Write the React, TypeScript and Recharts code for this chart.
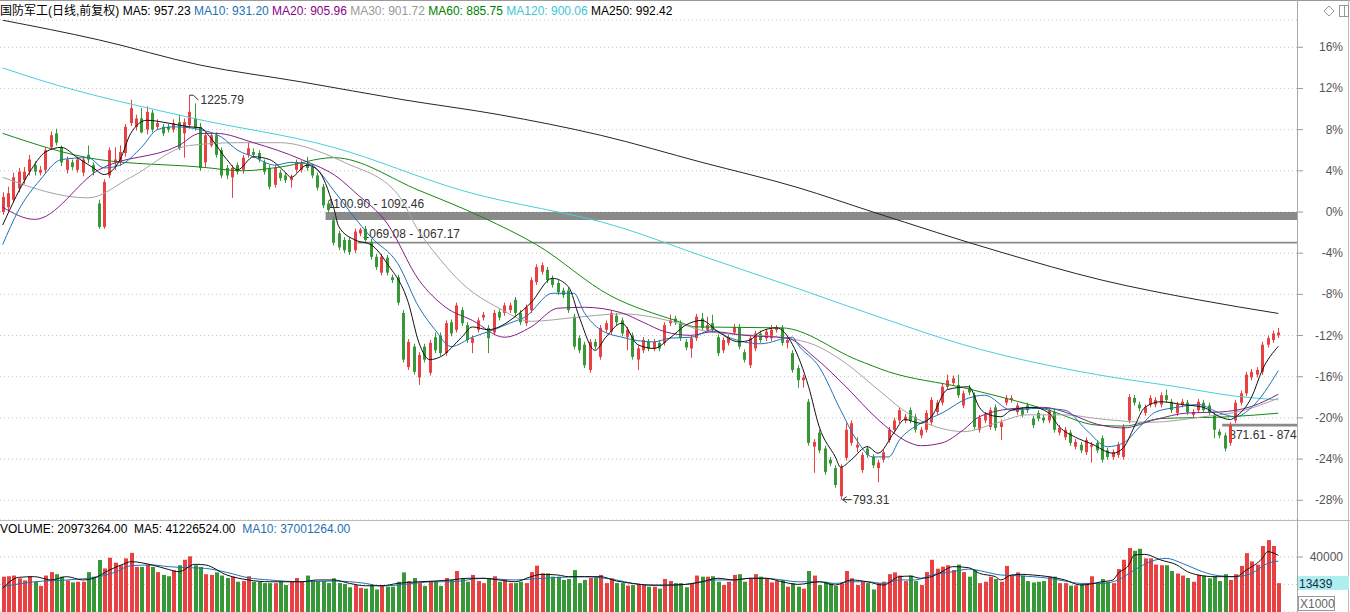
import React from 'react';
import { ComposedChart, Bar, Line, XAxis, YAxis, CartesianGrid, ReferenceArea, ReferenceDot } from 'recharts';

const FONT = "'Liberation Sans', Arial, 'Noto Sans CJK SC', sans-serif";
const UP = '#e94141';
const DOWN = '#369836';

const BASE = 1100.9;
const pctTicks = [16, 12, 8, 4, 0, -4, -8, -12, -16, -20, -24, -28];
const volTicks = [20000, 40000];
const SLOTS = 243;

const opens = [
  1101,1106,1114,1126,1135,1144,1151,1143,1146,1170,
  1185,1170,1146,1154,1146,1143,1162,1151,1110,1085,
  1140,1154,1154,1164,1196,1192,1201,1189,1207,1192,
  1192,1192,1189,1197,1185,1194,1201,1192,1154,1172,
  1183,1167,1148,1138,1151,1146,1162,1165,1164,1154,
  1148,1130,1143,1140,1135,1146,1146,1153,1149,1140,
  1128,1110,1092,1078,1071,1071,1060,1078,1083,1069,
  1053,1036,1052,1031,1031,993,935,957,924,957,
  929,967,969,950,983,975,996,980,961,975,
  988,977,972,994,993,996,1007,993,982,996,
  1026,1037,1039,1030,1025,1017,1017,989,966,959,
  932,962,946,975,973,990,985,967,969,943,
  953,962,955,961,961,982,987,982,962,955,
  966,987,975,982,967,953,961,972,978,951,
  937,955,971,966,966,975,977,961,950,934,
  921,898,850,865,848,836,827,797,838,854,
  849,825,848,839,827,836,857,868,878,878,
  889,882,862,868,876,887,897,914,918,916,
  894,913,905,868,878,871,892,871,897,900,
  887,889,894,880,886,881,878,887,865,860,
  865,850,852,844,850,854,859,846,839,841,
  839,878,902,895,886,895,895,895,905,898,
  886,895,897,884,889,897,894,884,866,862,
  854,878,897,907,924,927,930,959,964,969,
];
const highs = [
  1122,1128,1143,1148,1149,1162,1155,1150,1170,1187,
  1190,1172,1160,1157,1160,1160,1172,1154,1114,1136,
  1170,1170,1172,1195,1221,1205,1212,1214,1210,1200,
  1195,1195,1200,1205,1201,1225.79,1217,1196,1186,1186,
  1186,1170,1151,1151,1154,1162,1175,1169,1167,1157,
  1151,1151,1146,1143,1141,1157,1156,1160,1152,1143,
  1131,1113,1096,1081,1074,1074,1083,1084,1086,1072,
  1056,1056,1055,1034,1034,996,965,960,951,960,
  964,972,972,985,986,1004,999,983,969,988,
  994,980,996,997,1004,1004,1010,996,1002,1031,
  1045,1047,1042,1033,1028,1020,1020,992,969,962,
  965,965,980,985,996,993,988,978,972,958,
  967,965,965,964,983,991,990,985,965,969,
  992,993,989,991,970,967,970,981,981,954,
  969,974,974,976,980,980,980,967,953,937,
  927,901,858,868,851,839,830,831,875,878,
  860,844,851,842,836,847,871,881,892,885,
  892,885,871,889,903,900,917,927,926,927,
  910,916,908,884,887,892,895,879,905,905,
  897,892,897,883,889,884,892,890,873,871,
  868,858,855,860,855,857,862,849,847,855,
  874,906,905,898,895,905,903,908,911,901,
  898,901,900,890,901,900,897,887,869,865,
  876,900,910,930,933,935,962,969,974,977,
];
const lows = [
  1098,1103,1111,1122,1131,1140,1140,1140,1142,1168,
  1172,1150,1142,1146,1143,1139,1153,1140,1083,1083,
  1137,1146,1150,1160,1193,1188,1185,1184,1186,1189,
  1182,1186,1186,1167,1159,1190,1188,1145,1149,1170,
  1159,1137,1136,1116,1141,1142,1159,1159,1154,1141,
  1125,1127,1134,1132,1127,1143,1143,1145,1137,1124,
  1105,1100,1065,1060,1057,1055,1057,1075,1068,1050,
  1039,1033,1033,1025,1001,940,932,927,916,940,
  926,950,947,947,968,972,979,961,950,972,
  985,950,969,985,990,993,990,980,979,993,
  1023,1034,1025,1020,1012,1009,993,954,950,934,
  929,954,943,972,970,980,968,953,943,932,
  950,952,952,952,958,979,980,963,953,945,
  963,974,972,972,947,950,958,969,954,940,
  934,952,961,963,963,972,958,955,929,913,
  913,851,822,843,820,829,806,793.31,835,851,
  844,822,838,827,812,833,854,865,875,875,
  875,865,859,865,873,884,894,911,915,902,
  891,905,868,865,875,868,867,857,894,897,
  884,881,886,870,877,875,875,865,862,857,
  851,847,843,841,833,843,833,836,836,838,
  836,875,894,888,883,892,892,892,897,886,
  883,892,884,881,886,886,884,859,859,845,
  851,875,894,904,921,924,927,956,961,966,
];
const closes = [
  1117,1121,1138,1144,1144,1157,1144,1146,1167,1183,
  1175,1154,1157,1149,1157,1157,1157,1144,1085,1133,
  1167,1157,1165,1192,1212,1201,1186,1208,1189,1196,
  1185,1189,1196,1169,1197,1208,1191,1148,1183,1183,
  1162,1140,1140,1148,1144,1159,1169,1162,1157,1144,
  1128,1148,1137,1135,1138,1154,1153,1148,1140,1127,
  1108,1103,1068,1063,1060,1058,1080,1082,1071,1053,
  1042,1053,1036,1028,1004,943,962,930,948,943,
  961,953,950,982,971,1001,982,964,966,985,
  991,966,993,988,1001,1001,993,983,999,1028,
  1042,1044,1028,1023,1015,1012,996,957,953,937,
  962,957,977,982,993,983,971,975,946,955,
  964,955,962,955,980,985,983,966,956,966,
  989,977,980,975,950,964,967,978,957,943,
  966,971,964,973,975,977,961,964,932,921,
  924,854,855,846,823,832,809,828,868,875,
  852,841,841,830,833,844,868,878,889,882,
  878,868,868,886,900,897,914,921,923,905,
  907,908,871,881,884,889,870,876,902,902,
  894,884,889,873,880,878,889,868,870,868,
  854,855,846,857,852,846,836,839,844,852,
  871,903,897,891,892,902,900,905,900,889,
  895,898,887,887,898,889,887,868,862,848,
  873,897,907,927,930,932,959,966,971,972,
];
const volumes = [
  25700,26000,26500,24500,23000,26000,22000,19000,26500,29000,
  27500,25700,23000,21500,22000,22000,29000,25700,37800,31700,
  39500,35900,34000,39000,43000,32800,32800,34500,32800,29000,
  27000,26000,30300,34000,38000,40500,34000,32800,27500,27000,
  28800,26500,24700,25700,22000,22500,26000,22000,22000,21000,
  21000,21000,22000,19600,22000,24700,22500,26500,23000,22500,
  22500,21000,24500,21000,20400,18000,19600,17500,17000,19600,
  16400,19600,18400,18400,22000,28800,22500,24700,21000,19000,
  22500,22500,19000,24700,
  23300,29800,24500,22000,27000,22500,21000,24500,26000,22000,
  23300,21000,21000,22000,21000,29000,33700,28000,28000,25700,
  25700,23300,24000,30500,21000,23300,24700,24700,27000,21000,
  24500,21000,21000,19200,19600,20400,19600,18400,18400,17000,
  24000,22500,21000,21000,18000,21000,26500,25700,25700,26000,
  22000,19600,22000,27000,27500,22000,24500,27500,25700,24500,
  21500,22500,23300,18400,21000,18400,17000,29800,26500,19600,
  22000,21000,19000,21000,29800,24500,19600,22000,21000,16400,
  21000,22000,27500,28800,26500,
  22500,26500,22500,19600,29000,38000,31500,33000,34000,30500,
  34500,29000,25700,30500,21000,22000,25700,24000,22000,33500,
  27000,28800,26500,22500,21500,22000,22500,25700,25700,21000,
  21000,19200,19400,20400,21000,26000,21000,24000,22000,21000,
  31200,38000,46500,44500,46000,39000,39000,34500,34000,34000,
  29800,28000,26500,24700,22000,27000,26500,24500,26000,22500,
  27500,23300,27500,33500,42800,36800,34500,48000,52300,48000,20973,
];

const ma5Pts = [[0,1087],[5,1143],[8,1165],[11,1170],[14,1159],[17,1148],[19,1141],[22,1157],[24,1185],[27,1199],[31,1196],[35,1192],[37,1191],[39,1180],[42,1157],[44,1146],[47,1160],[50,1157],[53,1143],[54,1138],[57,1151],[59,1146],[62,1106],[63,1085],[66,1071],[69,1066],[72,1046],[76,1004],[78,961],[80,943],[82,946],[86,967],[88,978],[91,975],[93,978],[96,989],[99,1004],[103,1030],[106,1021],[108,989],[111,953],[113,967],[116,982],[119,959],[122,955],[125,966],[128,980],[131,985],[134,973],[138,962],[140,964],[142,973],[145,977],[148,959],[151,914],[153,871],[156,839],[157,828],[159,836],[162,850],[164,843],[167,865],[169,879],[172,875],[174,882],[177,911],[181,914],[183,892],[184,886],[187,882],[189,889],[193,892],[196,886],[198,871],[201,860],[204,853],[208,843],[210,849],[212,871],[214,892],[217,898],[221,895],[225,892],[228,882],[230,879],[231,882],[234,903],[236,932],[239,957.23]];
const ma10Pts = [[0,1066],[3,1103],[7,1135],[11,1157],[16,1159],[19,1148],[22,1151],[26,1170],[29,1189],[32,1192],[35,1191],[37,1189],[41,1181],[44,1167],[47,1160],[51,1151],[54,1154],[58,1151],[59,1146],[62,1124],[69,1074],[74,1046],[78,999],[81,975],[84,957],[88,967],[92,975],[95,982],[98,989],[103,1014],[107,1014],[109,993],[112,975],[116,967],[122,962],[125,966],[129,967],[133,975],[136,967],[142,960],[148,967],[149,959],[153,935],[157,889],[160,857],[163,839],[166,839],[168,857],[172,875],[176,886],[181,902],[184,905],[189,889],[194,891],[199,889],[203,868],[207,850],[210,854],[213,871],[216,887],[220,892],[224,895],[228,886],[231,882],[234,892],[239,931.2]];
const ma20Pts = [[0,1106],[6,1093],[18,1146],[33,1172],[37,1185],[40,1185],[47,1175],[56,1157],[63,1137],[66,1122],[72,1089],[78,1028],[83,999],[88,985],[94,967],[99,978],[104,998],[109,999],[116,993],[120,983],[124,973],[129,969],[133,973],[139,969],[147,966],[152,946],[158,914],[164,879],[170,854],[172,851],[176,854],[180,868],[183,882],[190,891],[195,892],[199,887],[205,874],[210,870],[216,879],[222,886],[228,887],[234,893],[239,905.96]];
const ma30Pts = [[0,1138],[16,1116],[24,1138],[35,1172],[44,1175],[52,1175],[60,1164],[64,1154],[74,1120],[78,1080],[82,1050],[86,1025],[93,998],[99,984],[107,988],[116,992],[126,983],[132,973],[147,966],[152,959],[158,939],[164,911],[170,884],[177,868],[180,866],[186,875],[192,884],[199,884],[205,880],[215,876],[225,882],[232,888],[239,901.72]];
const ma60Pts = [[0,1185],[18,1157],[37,1149],[45,1145],[52,1149],[62,1159],[78,1124],[90,1095],[100,1066],[114,1011],[126,985],[130,978],[146,977],[160,943],[166,930],[180,913],[196,889],[205,873],[210,872],[217,880],[230,882],[239,885.75]];
const ma120Pts = [[0,1255],[7,1242],[35,1202],[62,1170],[86,1124],[116,1084],[131,1054],[150,1017],[165,987],[180,959],[205,927],[220,914],[231,904],[239,900.06]];
const ma250Pts = [[0,1306],[18,1285],[37,1258],[56,1240],[75,1221],[93,1205],[112,1183],[131,1154],[149,1127],[163,1101],[187,1058],[206,1028],[224,1007],[239,992.42]];
const vma5Pts = [[0,17200],[3,25200],[6,25700],[9,23300],[12,25700],[15,23300],[17,24500],[20,30500],[23,35400],[24,36600],[28,34200],[31,31000],[33,29300],[36,34700],[38,34200],[42,26900],[46,23300],[50,22000],[56,22000],[59,23300],[62,23300],[65,20800],[68,19100],[71,19100],[74,20800],[78,22000],[81,22500],[84,23300],[87,24500],[90,24500],[93,23300],[96,22000],[99,25700],[101,27400],[104,26900],[106,25700],[109,25700],[112,25700],[115,22500],[118,20800],[121,19600],[124,19600],[128,20100],[131,22000],[134,24500],[137,23300],[140,24500],[143,24500],[146,22000],[149,20100],[153,22000],[156,19600],[159,23300],[162,22000],[165,19600],[168,25700],[170,26100],[172,24500],[174,25700],[176,29300],[178,33000],[181,32200],[183,28100],[186,25700],[187,23300],[189,26900],[191,27400],[193,26900],[196,25700],[199,23300],[202,19600],[206,22000],[208,23300],[209,28100],[211,34200],[212,41400],[214,41900],[217,37800],[220,34200],[222,29300],[224,26900],[227,25700],[231,25700],[233,30500],[236,39000],[237,43900],[239,41226]];
const vma10Pts = [[0,18400],[6,22000],[12,23300],[18,25700],[21,28800],[24,33700],[28,34200],[31,33000],[35,32200],[38,31700],[42,28800],[46,24900],[50,23300],[56,22000],[62,22500],[68,20800],[71,18900],[74,19600],[81,22000],[84,22000],[90,24500],[96,23300],[99,24000],[103,24900],[109,25700],[112,24900],[115,23300],[118,20800],[121,19600],[124,19100],[128,20100],[131,22000],[134,23300],[137,23300],[140,24500],[143,24500],[146,23300],[149,22000],[153,22000],[156,20800],[159,22000],[162,22000],[165,20800],[168,23300],[171,23300],[174,26900],[178,29300],[181,31200],[184,29300],[187,26900],[190,26400],[193,25700],[196,24500],[199,22500],[202,20800],[206,20800],[209,23300],[212,30500],[215,36600],[218,39000],[221,35400],[224,30500],[227,26900],[231,25700],[234,28100],[237,35400],[239,37001]];

const legendItems = [
  { text: '国防军工(日线,前复权)', color: '#000' },
  { text: 'MA5: 957.23', color: '#000' },
  { text: 'MA10: 931.20', color: '#1f6fb5' },
  { text: 'MA20: 905.96', color: '#8a008a' },
  { text: 'MA30: 901.72', color: '#999999' },
  { text: 'MA60: 885.75', color: '#008000' },
  { text: 'MA120: 900.06', color: '#3cc6d6' },
  { text: 'MA250: 992.42', color: '#000' },
];
const volLegend = [
  { text: 'VOLUME: 20973264.00', color: '#000' },
  { text: 'MA5: 41226524.00', color: '#000' },
  { text: 'MA10: 37001264.00', color: '#1f6fb5' },
];

const data: any[] = Array.from({ length: SLOTS }, (_, i) => {
  const row: any = { i };
  if (i < opens.length) {
    row.o = opens[i]; row.h = highs[i]; row.l = lows[i]; row.c = closes[i];
    row.range = [lows[i], highs[i]];
    row.vol = volumes[i];
  }
  return row;
});
const put = (pts: number[][], key: string) => pts.forEach(([i, v]) => { data[i][key] = v; });
put(ma5Pts, 'ma5'); put(ma10Pts, 'ma10'); put(ma20Pts, 'ma20'); put(ma30Pts, 'ma30');
put(ma60Pts, 'ma60'); put(ma120Pts, 'ma120'); put(ma250Pts, 'ma250');
put(vma5Pts, 'vma5'); put(vma10Pts, 'vma10');

const Candle = (props: any) => {
  const { x, y, width, height, payload } = props;
  if (!payload || payload.o == null) return null;
  const { o, h, l, c } = payload;
  const top = Math.min(y, y + height);
  const hh = Math.abs(height);
  const k = hh / (h - l);
  const yv = (v: number) => top + (h - v) * k;
  const col = c >= o ? UP : DOWN;
  const px = Math.round(x + width / 2);
  const bTop = yv(Math.max(o, c));
  const bBot = yv(Math.min(o, c));
  return (
    <g>
      <line x1={px + 0.5} x2={px + 0.5} y1={top} y2={top + hh} stroke={col} strokeWidth={1} />
      <rect x={px - 1} y={bTop} width={3} height={Math.max(1, bBot - bTop)} fill={col} />
    </g>
  );
};

const VolBar = (props: any) => {
  const { x, y, width, height, payload } = props;
  if (!payload || payload.vol == null) return null;
  const col = payload.c >= payload.o ? UP : DOWN;
  const px = Math.round(x + width / 2);
  const top = Math.min(y, y + height);
  return <rect x={px - 1} y={top} width={4} height={Math.abs(height)} fill={col} />;
};

const PctTick = (props: any) => {
  const { x, y, payload } = props;
  const p = Math.round((payload.value / BASE - 1) * 100);
  const label = pctTicks.includes(p) ? `${p}%` : '';
  return (
    <text x={x + 38} y={y + 4} textAnchor="end" fontSize={12} fill="#555" fontFamily={FONT}>{label}</text>
  );
};

const VolTick = (props: any) => {
  const { x, y, payload } = props;
  if (payload.value !== volTicks[1]) return null;
  return (
    <text x={x + 38} y={y + 4} textAnchor="end" fontSize={12} fill="#555" fontFamily={FONT}>{String(payload.value)}</text>
  );
};

const BandLabel = (props: any) => {
  const { viewBox, text, dx = 3, dy = -4 } = props;
  if (!viewBox) return null;
  return (
    <text x={viewBox.x + dx} y={viewBox.y + dy} fontSize={12} fill="#333" fontFamily={FONT}>{text}</text>
  );
};

const ClippedBelowLabel = (props: any) => {
  const { viewBox, text } = props;
  if (!viewBox) return null;
  return (
    <svg x={viewBox.x} y={viewBox.y + viewBox.height} width={Math.max(0, viewBox.width)} height={18} overflow="hidden">
      <text x={7} y={13} fontSize={12} fill="#333" fontFamily={FONT}>{text}</text>
    </svg>
  );
};

const HighMark = (props: any) => {
  const { cx, cy } = props;
  if (cx == null || cy == null) return null;
  return (
    <g>
      <polyline points={`${cx},${cy} ${cx + 4},${cy} ${cx + 9},${cy + 5}`} fill="none" stroke="#333" strokeWidth={1} />
      <text x={cx + 11} y={cy + 9} fontSize={12} fill="#333" fontFamily={FONT}>1225.79</text>
    </g>
  );
};

const LowMark = (props: any) => {
  const { cx, cy } = props;
  if (cx == null || cy == null) return null;
  return (
    <g>
      <line x1={cx + 2} y1={cy} x2={cx + 11} y2={cy} stroke="#333" strokeWidth={1} />
      <polyline points={`${cx + 6},${cy - 3} ${cx + 2},${cy} ${cx + 6},${cy + 3}`} fill="none" stroke="#333" strokeWidth={1} />
      <text x={cx + 12} y={cy + 4} fontSize={12} fill="#333" fontFamily={FONT}>793.31</text>
    </g>
  );
};

const maLine = (key: string, color: string) => (
  <Line key={key} type="monotone" dataKey={key} stroke={color} strokeWidth={1} dot={false} activeDot={false}
    connectNulls isAnimationActive={false} />
);

export default function App() {
  const priceTicks = pctTicks.map((p) => BASE * (1 + p / 100));
  return (
    <div style={{ position: 'absolute', left: 0, top: 0, width: 1350, height: 612, background: '#fff', overflow: 'hidden', fontFamily: FONT }}>
      <div style={{ position: 'absolute', left: 0, top: 0 }}>
        <ComposedChart width={1350} height={520} data={data} margin={{ top: 20, right: 0, bottom: 0, left: 0 }}>
          <CartesianGrid vertical={false} stroke="#c4c4c4" strokeDasharray="1 3" />
          <XAxis dataKey="i" hide />
          <YAxis orientation="right" width={53} domain={[771.54, 1306.22]} allowDataOverflow ticks={priceTicks}
            interval={0} tick={<PctTick />} tickSize={6} tickLine={{ stroke: '#999' }} axisLine={false} />
          <Bar dataKey="range" shape={<Candle />} isAnimationActive={false} />
          {maLine('ma250', '#262626')}
          {maLine('ma120', '#48cfdc')}
          {maLine('ma60', '#138a13')}
          {maLine('ma30', '#a3a3a3')}
          {maLine('ma20', '#861f86')}
          {maLine('ma10', '#1f72b8')}
          {maLine('ma5', '#111111')}
          <ReferenceArea x1={61} y1={1092.46} y2={1100.9} fill="#8a8a8a" fillOpacity={1} stroke="none"
            label={<BandLabel text="1100.90 - 1092.46" dx={2} dy={-4} />} />
          <ReferenceArea x1={67} y1={1067.17} y2={1069.08} fill="#8a8a8a" fillOpacity={1} stroke="none"
            label={<BandLabel text="1069.08 - 1067.17" dx={5} dy={-4} />} />
          <ReferenceArea x1={229} y1={871.61} y2={874.56} fill="#8a8a8a" fillOpacity={1} stroke="none"
            label={<ClippedBelowLabel text="871.61 - 874.56" />} />
          <ReferenceDot x={35} y={1225.79} r={1} shape={<HighMark />} />
          <ReferenceDot x={157} y={793.31} r={1} shape={<LowMark />} />
        </ComposedChart>
      </div>
      <div style={{ position: 'absolute', left: 0, top: 520 }}>
        <ComposedChart width={1350} height={92} data={data} margin={{ top: 0, right: 0, bottom: 0, left: 0 }}>
          <CartesianGrid vertical={false} stroke="#c4c4c4" strokeDasharray="1 3" />
          <XAxis dataKey="i" hide />
          <YAxis orientation="right" width={53} domain={[0, 66909]} allowDataOverflow ticks={volTicks}
            interval={0} tick={<VolTick />} tickSize={6} tickLine={{ stroke: '#999' }} axisLine={false} />
          <Bar dataKey="vol" shape={<VolBar />} isAnimationActive={false} />
          {maLine('vma10', '#1f72b8')}
          {maLine('vma5', '#111111')}
        </ComposedChart>
      </div>
      <svg width={1350} height={612} style={{ position: 'absolute', left: 0, top: 0, pointerEvents: 'none' }}>
        <line x1={0} x2={1350} y1={0.5} y2={0.5} stroke="#999" />
        <line x1={0} x2={1350} y1={520.5} y2={520.5} stroke="#bbb" />
        <line x1={1297.5} x2={1297.5} y1={0} y2={612} stroke="#aaa" />
        <line x1={1348.5} x2={1348.5} y1={0} y2={612} stroke="#bbb" />
        <text x={0} y={15} fontSize={12} fontFamily={FONT} style={{ whiteSpace: 'pre' }}>
          {legendItems.map((it, k) => (
            <tspan key={k} fill={it.color}>{(k ? ' ' : '') + it.text}</tspan>
          ))}
        </text>
        <text x={0} y={533} fontSize={12} fontFamily={FONT} style={{ whiteSpace: 'pre' }}>
          {volLegend.map((it, k) => (
            <tspan key={k} fill={it.color}>{(k ? '  ' : '') + it.text}</tspan>
          ))}
        </text>
        <rect x={1298} y={576} width={51} height={14} fill="#aeeeee" />
        <text x={1299} y={588} fontSize={12} fill="#1a2a4a" fontFamily={FONT}>13439</text>
        <rect x={1298.5} y={596.5} width={36} height={14} fill="#fff" stroke="#999" />
        <text x={1300} y={608} fontSize={12} fill="#666" fontFamily={FONT}>X1000</text>
        <path d="M1329 6 L1334 11 L1329 16 L1324 11 Z" fill="none" stroke="#999" />
        <rect x={1339.5} y={5.5} width={9} height={11} fill="none" stroke="#999" />
        <line x1={1344.5} x2={1344.5} y1={6} y2={16} stroke="#999" />
      </svg>
    </div>
  );
}
